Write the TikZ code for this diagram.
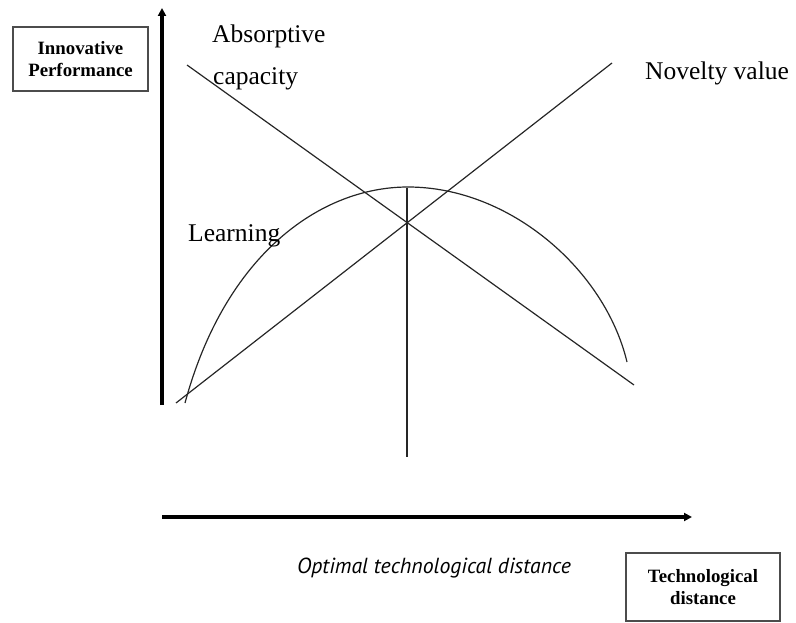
\documentclass[tikz,border=0pt]{standalone}
\usepackage{fontspec}
\setmainfont{Liberation Serif}
\newfontfamily\optfont{PT Sans}
\usetikzlibrary{
    arrows.meta,
    positioning
}

\begin{document}
\begin{tikzpicture}[x=1pt,y=-1pt,
    axis/.style={line width=3.5pt,-{Triangle[length=8pt,width=8pt]}},
    trend/.style={line width=1.2pt,black!85},
    curvelabel/.style={font=\fontsize{25.5}{28}\selectfont,inner sep=0pt},
    titlebox/.style={draw=black!70,line width=1.3pt,align=center,
        font=\fontsize{18.8}{22}\selectfont\bfseries,minimum width=135pt,minimum height=64pt}]
    \useasboundingbox (0,0) rectangle (796,623);
    % axes
    \coordinate (origin) at (162,405);
    \coordinate (ytop) at (162,8);
    \coordinate (xstart) at (162,517);
    \coordinate (xend) at (692,517);
    \draw[axis] (origin) -- (ytop);
    \draw[axis] (xstart) -- (xend);
    \node[titlebox] (perf) at (80.5,59) {Innovative\\Performance};
    \node[titlebox,minimum width=154pt,minimum height=68pt] (dist) at (703,587) {Technological\\distance};
    % the two straight effects
    \coordinate (absA) at (187,65);
    \coordinate (absB) at (634,385);
    \coordinate (novA) at (176,403);
    \coordinate (novB) at (612,63);
    \draw[trend] (absA) -- (absB);
    \draw[trend] (novA) -- (novB);
    % inverted U of learning
    \coordinate (lrnA) at (185,403);
    \coordinate (peak) at (408,187);
    \coordinate (lrnB) at (627,362);
    \draw[trend] (lrnA) .. controls (225,255) and (320,187) .. (peak)
                        .. controls (510,187) and (605,270) .. (lrnB);
    \coordinate (optTop) at (407,188);
    \coordinate (optBot) at (407,457);
    \draw[trend] (optTop) -- (optBot);
    % labels
    \node[curvelabel,anchor=base west] (absorb) at (212,43) {Absorptive};
    \node[curvelabel,anchor=base west] (capac) at (213,85) {capacity};
    \node[curvelabel,anchor=base west] (novel) at (645,80) {Novelty value};
    \node[curvelabel,anchor=base west] (learn) at (188,242) {Learning};
    \node[anchor=base west,inner sep=0pt,font=\optfont\itshape\fontsize{21.8}{24}\selectfont] (optimal) at (297,573) {Optimal technological distance};
\end{tikzpicture}
\end{document}
